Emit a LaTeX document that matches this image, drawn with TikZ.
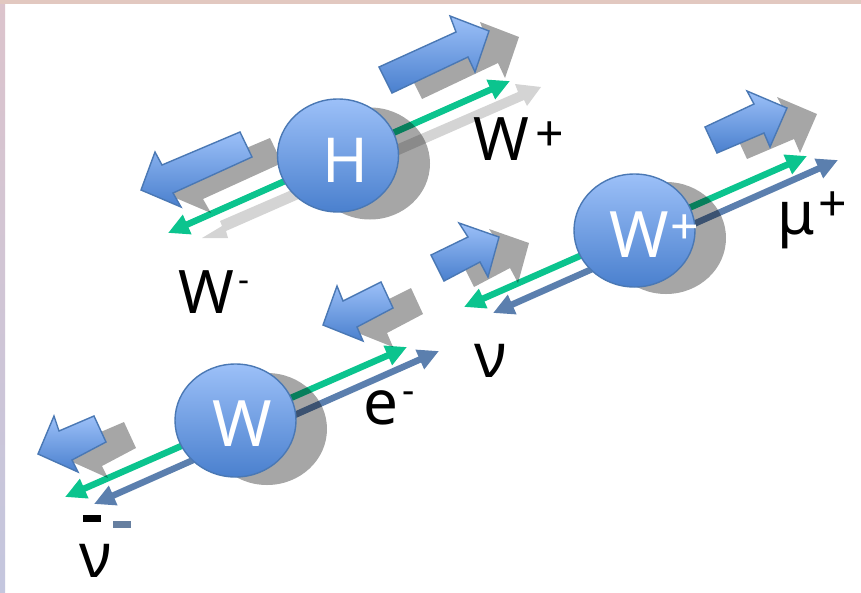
\documentclass[tikz,border=0pt]{standalone}
\usepackage{fontspec}
\setmainfont{Noto Sans}
\usetikzlibrary{arrows.meta,shapes.geometric}
\definecolor{particle}{HTML}{0BC48E}
\definecolor{lepton}{HTML}{5B7FAE}
\definecolor{rimblue}{HTML}{4A78B4}
\definecolor{ballhi}{HTML}{9CC0F8}
\definecolor{balllo}{HTML}{4A80CE}
\definecolor{framepink}{HTML}{E2C8C0}
\definecolor{framemid}{HTML}{DCC4CC}
\definecolor{framelav}{HTML}{C4C6DE}
\tikzset{
  trackboth/.style={line width=6.5pt,{Triangle[length=21pt,width=20pt]}-{Triangle[length=21pt,width=20pt]}},
  castline/.style={draw=none,fill=black,fill opacity=.17},
  cast/.style={draw=none,fill=black,fill opacity=.35},
  spinbody/.style={draw=rimblue,line width=1.4pt,top color=ballhi,bottom color=balllo,line join=miter},
  ball/.style={ellipse,draw=rimblue,line width=1.4pt,top color=ballhi,bottom color=balllo,
    minimum width=121pt,minimum height=113pt,inner sep=0pt},
  balltext/.style={white,inner sep=0pt,anchor=base west},
  label/.style={black,inner sep=0pt,anchor=base west},
}
\newcommand{\sized}[1]{\fontsize{#1}{#1}\selectfont}
% spin arrow: polygon with its cast shadow
\newcommand{\spinarrow}[7]{%
  \fill[cast,shift={(30,6)}] #1 -- #2 -- #3 -- #4 -- #5 -- #6 -- #7 -- cycle;
  \draw[spinbody] #1 -- #2 -- #3 -- #4 -- #5 -- #6 -- #7 -- cycle;
}
\begin{document}
\begin{tikzpicture}[x=1pt,y=-1pt]
\useasboundingbox (0,0) rectangle (861,592);
\fill[white] (0,0) rectangle (861,592);
% frame strips along the top and left edges
\shade[top color=framemid,bottom color=framelav] (0,0) rectangle (5,592);
\fill[framepink] (0,0) rectangle (861,4);

% decay tracks
\coordinate (hL) at (168,233); \coordinate (hR) at (510,81);
\coordinate (wGL) at (65,497); \coordinate (wGR) at (407,347);
\coordinate (wBL) at (94,504); \coordinate (wBR) at (439,351);
\coordinate (pGL) at (464,307); \coordinate (pGR) at (807,156);
\coordinate (pBL) at (493,313); \coordinate (pBR) at (838,160);
\draw[trackboth,particle] (hL) -- (hR);
\draw[trackboth,particle] (wGL) -- (wGR);
\draw[trackboth,lepton] (wBL) -- (wBR);
\draw[trackboth,particle] (pGL) -- (pGR);
\draw[trackboth,lepton] (pBL) -- (pBR);

% faint cast of the Higgs track
\fill[castline] (202,238) -- (222,226) -- (220,221) -- (518,92) -- (515,84) -- (541,87) -- (527,106) -- (524,100) -- (226,231) -- (228,238) -- cycle;

% cast shadows of the balls
\fill[cast] (370,163.5) ellipse (60 and 56);
\fill[cast] (267,429) ellipse (60 and 56);
\fill[cast] (666,238) ellipse (60 and 56);

% spin arrows
\spinarrow{(379,67)}{(392,93)}{(468,57)}{(475,72)}{(489,31)}{(450,16)}{(456,32)}
\spinarrow{(240,132)}{(252,157)}{(173,193)}{(181,207)}{(141,190)}{(155,152)}{(162,165)}
\spinarrow{(381,282)}{(393,308)}{(357,327)}{(363,341)}{(323,325)}{(337,286)}{(343,301)}
\spinarrow{(94,416)}{(106,442)}{(72,460)}{(78,472)}{(38,454)}{(54,416)}{(59,431)}
\spinarrow{(705,127)}{(717,153)}{(764,133)}{(770,147)}{(787,108)}{(747,91)}{(754,104)}
\spinarrow{(431,255)}{(444,281)}{(480,262)}{(488,277)}{(499,237)}{(459,223)}{(468,237)}

% balls
\node[ball] (higgs) at (338,155.5) {};
\node[ball] (wminus) at (235.5,420.5) {};
\node[ball] (wplus) at (634.5,230.5) {};
\node[balltext,font=\sized{62}] (higgstext) at (322,182) {H};
\node[balltext,font=\sized{64}] (wminustext) at (212,446) {W};
\node[balltext,font=\sized{64}] (wplustext) at (609,257) {W};
\node[balltext,font=\sized{50}] (wplusup) at (670.5,244) {+};

% labels
\node[label,font=\sized{60}] (lwp) at (473,160) {W};
\node[label,font=\sized{50}] (lwpup) at (535.5,151) {+};
\node[label,font=\sized{60}] (lwm) at (178,313) {W};
\node[label,font=\sized{34}] (lwmup) at (238.7,291) {-};
\node[label,font=\sized{62}] (le) at (363,424) {e};
\node[label,font=\sized{38}] (leup) at (402,403) {-};
\node[label,font=\sized{60}] (lmu) at (777,234) {μ};
\node[label,font=\sized{50}] (lmuup) at (818.5,221.5) {+};
\node[label,font=\sized{62}] (lnu) at (474,377) {ν};
\node[label,font=\sized{62}] (lnubar) at (79,577) {ν};
\fill[black] (83,515) rectangle (101,522);
\fill[lepton!70!gray] (113,521) rectangle (131,528);
\end{tikzpicture}
\end{document}
